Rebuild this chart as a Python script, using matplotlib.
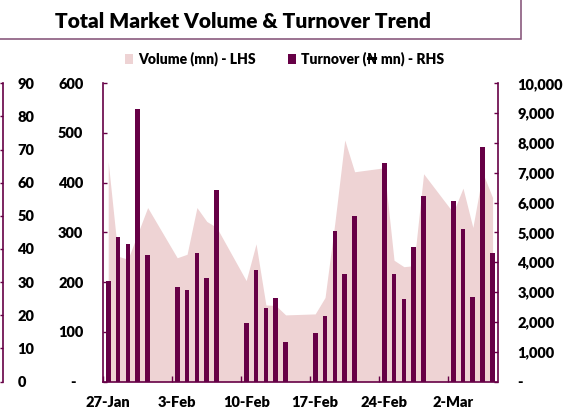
import matplotlib
matplotlib.use("Agg")
import matplotlib.pyplot as plt
from matplotlib.patches import Patch, Rectangle
import pandas as pd

plt.rcParams['font.family'] = ['Lato', 'DejaVu Sans']
plt.rcParams['font.weight'] = 'heavy'

# ---------------- data ----------------
trade_dates = [
    "2020-01-27", "2020-01-28", "2020-01-29", "2020-01-30", "2020-01-31",
    "2020-02-03", "2020-02-04", "2020-02-05", "2020-02-06", "2020-02-07",
    "2020-02-10", "2020-02-11", "2020-02-12", "2020-02-13", "2020-02-14",
    "2020-02-17", "2020-02-18", "2020-02-19", "2020-02-20", "2020-02-21",
    "2020-02-24", "2020-02-25", "2020-02-26", "2020-02-27", "2020-02-28",
    "2020-03-02", "2020-03-03", "2020-03-04", "2020-03-05", "2020-03-06",
]
volume_mn = [
    442, 252, 246, 298, 350,
    249, 256, 350, 322, 310,
    203, 277, 154, 153, 134,
    136, 169, 320, 486, 422,
    430, 244, 231, 233, 418,
    340, 389, 310, 420, 370,
]
turnover_mn = [
    3380, 4860, 4620, 9130, 4230,
    3170, 3080, 4310, 3460, 6430,
    1950, 3740, 2480, 2810, 1310,
    1620, 2190, 5050, 3620, 5560,
    7320, 3600, 2770, 4500, 6230,
    6050, 5110, 2840, 7850, 4310,
]
week_starts = ["2020-01-27", "2020-02-03", "2020-02-10", "2020-02-17", "2020-02-24", "2020-03-02"]
week_labels = ["27-Jan", "3-Feb", "10-Feb", "17-Feb", "24-Feb", "2-Mar"]
lhs_ticks = [0, 100, 200, 300, 400, 500, 600]
lhs_labels = ["-  ", "100", "200", "300", "400", "500", "600"]
rhs_ticks = [0, 1000, 2000, 3000, 4000, 5000, 6000, 7000, 8000, 9000, 10000]
rhs_labels = ["-", "1,000", "2,000", "3,000", "4,000", "5,000", "6,000", "7,000", "8,000", "9,000", "10,000"]
far_ticks = [0, 10, 20, 30, 40, 50, 60, 70, 80, 90]

title = "Total Market Volume & Turnover Trend"

# ---------------- styling ----------------
PURPLE = "#660046"
PINK = "#EED3D4"
FS = 10.5
W = 'heavy'

dates = pd.to_datetime(trade_dates) + pd.Timedelta(hours=12)
wk = pd.to_datetime(week_starts)

fig = plt.figure(figsize=(5.72, 4.13), dpi=100)
L, B, R, T = 103.3 / 572, 1 - 381.5 / 413, 497.5 / 572, 1 - 83.3 / 413
ax = fig.add_axes([L, B, R - L, T - B])
ax2 = ax.twinx()

ax.fill_between(dates, volume_mn, 0, color=PINK, linewidth=0, zorder=1)
ax2.bar(dates, turnover_mn, width=0.48, color=PURPLE, linewidth=0, zorder=2)

ax.set_xlim(pd.Timestamp("2020-01-27"), pd.Timestamp("2020-03-07"))
ax.set_ylim(0, 600)
ax2.set_ylim(0, 10000)

ax.set_yticks(lhs_ticks)
ax.set_yticklabels(lhs_labels, fontweight=W)
ax2.set_yticks(rhs_ticks)
ax2.set_yticklabels(rhs_labels, fontweight=W)

ax.set_xticks(wk)
ax.set_xticklabels([])
ax.set_xticks(wk + pd.Timedelta(hours=12), minor=True)
ax.set_xticklabels(week_labels, minor=True, fontweight=W)
ax.tick_params(axis='x', which='major', direction='in', length=4.3, width=1, color=PURPLE)
ax.tick_params(axis='x', which='minor', length=0, pad=10.5, labelsize=FS)
ax.tick_params(axis='y', direction='in', length=3.2, width=1, color=PURPLE, pad=14.4, labelsize=FS)
ax2.tick_params(axis='y', direction='in', length=3.2, width=1, color=PURPLE, pad=14.4, labelsize=FS)
for lab in ax2.get_yticklabels():
    lab.set_horizontalalignment('left')

for a in (ax, ax2):
    a.spines['top'].set_visible(False)
    for s in ('left', 'right', 'bottom'):
        a.spines[s].set_color(PURPLE)
        a.spines[s].set_linewidth(1.2)
ax2.spines['left'].set_visible(False)
ax2.spines['bottom'].set_visible(False)
ax.spines['right'].set_visible(False)

# partial axis of a neighbouring chart at far left
x3 = 2.7 / 572
ax3 = fig.add_axes([x3 - 0.05, B, 0.05, T - B])
ax3.set_ylim(0, 90)
ax3.set_xticks([])
ax3.yaxis.tick_right()
ax3.set_yticks(far_ticks)
ax3.set_yticklabels([str(v) for v in far_ticks], fontweight=W)
ax3.tick_params(axis='y', direction='in', length=2.2, width=1, color=PURPLE, pad=10.5, labelsize=FS)
for s in ('left', 'top', 'bottom'):
    ax3.spines[s].set_visible(False)
ax3.spines['right'].set_color(PURPLE)
ax3.spines['right'].set_linewidth(1.2)
ax3.patch.set_visible(False)

# title box
fig.patches.append(Rectangle((-0.02, 1 - 39.3 / 413), 0.02 + 521 / 572, 0.2,
                             transform=fig.transFigure, facecolor='none',
                             edgecolor='#8a5a7e', linewidth=1.2))
fig.text(243 / 572, 1 - 21.7 / 413, title, ha='center', va='center',
         fontsize=15, fontweight=W, color='black')

handles = [Patch(facecolor=PINK, edgecolor='none'), Patch(facecolor=PURPLE, edgecolor='none')]
fig.legend(handles, ["Volume (mn) - LHS", "Turnover (\u20a6 mn) - RHS"],
           loc='center', bbox_to_anchor=(0.497, 1 - 59 / 413), ncol=2, frameon=False,
           handlelength=0.6, handleheight=0.7, handletextpad=0.35,
           columnspacing=2.3, borderaxespad=0, borderpad=0,
           prop={'family': ['Lato', 'DejaVu Sans'], 'weight': W, 'size': 10})

fig.savefig("out.png", dpi=100)
